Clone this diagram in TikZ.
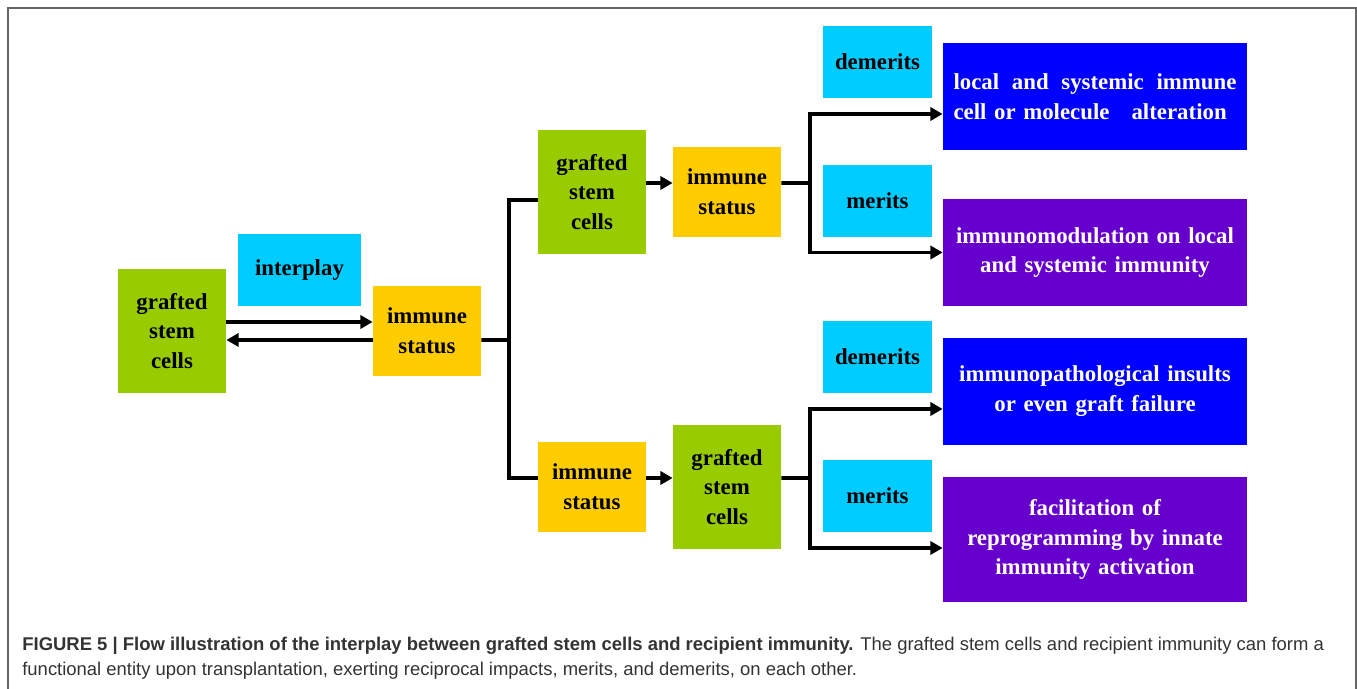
\documentclass[tikz,border=0pt]{standalone}
\usepackage{fontspec}
\setmainfont{Liberation Serif}
\newfontfamily\capfont{Liberation Sans}
\usepackage{tikz}
\usetikzlibrary{arrows.meta}
\definecolor{grn}{RGB}{153,204,0}
\definecolor{ylw}{RGB}{255,204,0}
\definecolor{cyn}{RGB}{0,204,255}
\definecolor{blu}{RGB}{0,0,255}
\definecolor{prp}{RGB}{102,0,204}
\tikzset{
box/.style = {rectangle, inner sep=0pt, align=center,
              font=\fontsize{13pt}{17pt}\selectfont\bfseries},
capline/.style = {anchor=base west, inner sep=0pt, text=black!80,
              font=\capfont\fontsize{10.5pt}{14pt}\selectfont}
}

\begin{document}
\begin{tikzpicture}[G/.style={box, fill=grn, minimum width=2.16cm, minimum height=2.48cm},
I/.style={box, fill=ylw, minimum width=2.16cm, minimum height=1.8cm},
L/.style={box, fill=cyn, minimum width=2.18cm, minimum height=1.44cm},
O/.style={box, text=white, minimum width=6.08cm, minimum height=2.14cm, text width=5.66cm},
lE/.style={line width=2.1pt,-{Triangle[length=7pt,width=7.5pt]}},
lN/.style={line width=2.1pt}]
%
\useasboundingbox (0,0) rectangle (27.14,13.78);
\draw[black!60, line width=0.8pt] (0.16,0) |- (27.12,13.62) -- (27.12,0);

% first stage
\node[G] at (3.44,7.16) (gsc0) {grafted\\stem\\cells};
\node[L, minimum width=2.46cm] at (5.99,8.38) (inter) {interplay};
\node[I] at (8.54,7.16) (imm0) {immune\\status};

\draw[lE] ([yshift=0.18cm]gsc0.east) -- ([yshift=0.18cm]imm0.west);
\draw[lE] ([yshift=-0.18cm]imm0.west) -- ([yshift=-0.18cm]gsc0.east);

% two branches
\node[G] at (11.84,9.94) (gsc1) {grafted\\stem\\cells};
\node[I] at (14.54,9.94) (imm1) {immune\\status};
\node[I] at (11.84,4.04) (imm2) {immune\\status};
\node[G] at (14.54,4.04) (gsc2) {grafted\\stem\\cells};

\coordinate (J1) at (10.18,6.98);
\draw[lN] ([yshift=-0.18cm]imm0.east) -- (J1);
\draw[lN] ([yshift=-0.16cm]gsc1.west) -| (J1) |- ([yshift=0.18cm]imm2.west);

\draw[lE] ([yshift=0.18cm]gsc1.east) -- ([yshift=0.18cm]imm1.west);
\draw[lE] ([yshift=0.18cm]imm2.east) -- ([yshift=0.18cm]gsc2.west);

% merits and demerits
\node[L] at (17.55,12.54) (dem1) {demerits};
\node[L] at (17.55,9.76) (mer1) {merits};
\node[L] at (17.55,6.64) (dem2) {demerits};
\node[L] at (17.55,3.86) (mer2) {merits};

\node[O, fill=blu, align=left] at (21.9,11.85) (out1) {local\hfill and\hfill systemic\hfill immune\\cell or molecule\hspace{0.44cm}alteration};
\node[O, fill=prp] at (21.9,8.73) (out2) {immunomodulation on local\\and systemic immunity};
\node[O, fill=blu] at (21.9,5.95) (out3) {immunopathological insults\\or even graft failure};
\node[O, fill=prp, minimum height=2.5cm] at (21.9,2.99) (out4) {facilitation of\\reprogramming by innate\\immunity activation};

\coordinate (J2) at (16.2,10.12);
\draw[lN] ([yshift=0.18cm]imm1.east) -- (J2);
\draw[lE] (J2) |- ([yshift=-0.35cm]out1.west);
\draw[lE] (J2) |- (out2.west);

\coordinate (J3) at (16.2,4.22);
\draw[lN] ([yshift=0.18cm]gsc2.east) -- (J3);
\draw[lE] (J3) |- ([yshift=-0.35cm]out3.west);
\draw[lE] (J3) |- ([yshift=-0.17cm]out4.west);

% caption
\node[capline] at (0.44,0.76) (cap1) {\textbf{FIGURE 5 | Flow illustration of the interplay between grafted stem cells and recipient immunity.} The grafted stem cells and recipient immunity can form a};
\node[capline] at (0.44,0.26) (cap2) {functional entity upon transplantation, exerting reciprocal impacts, merits, and demerits, on each other.};

\end{tikzpicture}
\end{document}
